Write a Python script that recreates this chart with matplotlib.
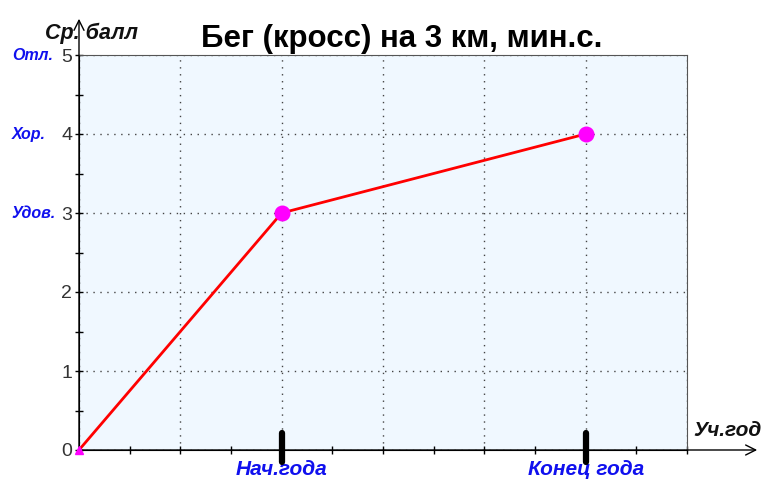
import matplotlib
matplotlib.use("Agg")
import matplotlib.pyplot as plt

plt.rcParams['font.family'] = ['Liberation Sans', 'DejaVu Sans']

# данные
x_vals = [0, 2, 5]
y_vals = [0, 3, 4]
x_marks = [2, 5]
x_marks_lbl = ['Нач.года', 'Конец года']
grade_y = [5, 4, 3]
grade_lbl = ['Отл.', 'Хор.', 'Удов.']
title = 'Бег (кросс) на 3 км, мин.с.'

fig = plt.figure(figsize=(7.68, 4.82), dpi=100)
ax = fig.add_axes([79/768, 1-450/482, 608/768, 395/482])
ax.set_facecolor('#f0f8ff')
ax.set_xlim(0, 6)
ax.set_ylim(0, 5)

ax.set_xticks(range(0, 7))
ax.set_xticks([i + 0.5 for i in range(6)], minor=True)
ax.set_yticks(range(0, 6))
ax.set_yticks([i + 0.5 for i in range(5)], minor=True)
ax.set_xticklabels([])
ax.tick_params(axis='x', which='both', direction='inout', length=6, width=1)
ax.tick_params(axis='y', which='both', direction='inout', length=6, width=1,
               labelsize=14, labelcolor='#333333', pad=2)
ax.grid(True, which='major', linestyle=(0, (1, 4)), color='#444444', linewidth=1)

for s in ['top', 'right']:
    ax.spines[s].set_color('#555555')
ax.spines['left'].set_color('black')
ax.spines['bottom'].set_color('black')

# оси со стрелками
ax.annotate('', xy=(1.12, 0), xytext=(0, 0), xycoords='axes fraction',
            arrowprops=dict(arrowstyle='->', color='black', lw=1, mutation_scale=18),
            annotation_clip=False)
ax.annotate('', xy=(0, (450-16)/395), xytext=(0, 0), xycoords='axes fraction',
            arrowprops=dict(arrowstyle='->', color='black', lw=1, mutation_scale=18),
            annotation_clip=False)

ax.plot(x_vals, y_vals, color='red', lw=2, zorder=3)
ax.plot(x_vals[1:], y_vals[1:], 'o', color='magenta', ms=10.5, zorder=4)
ax.plot(x_vals[0], y_vals[0], '^', color='magenta', ms=6, zorder=4, clip_on=False)

for xm, lbl in zip(x_marks, x_marks_lbl):
    ax.plot([xm, xm], [0.215, -0.15], color='black', lw=4.5, solid_capstyle='round',
            clip_on=False, zorder=5)
    ax.text(xm, -0.25, lbl, ha='center', va='center', fontsize=15, fontweight='bold',
            fontstyle='italic', color='#1010ee')

for gy, lbl in zip(grade_y, grade_lbl):
    ax.annotate(lbl, xy=(0, gy), xycoords=('figure fraction', 'data'),
                xytext=(12/768, gy), textcoords=('figure fraction', 'data'),
                ha='left', va='center', fontsize=11.5, fontweight='bold',
                fontstyle='italic', color='#1010ee')

fig.text(45/768, 1-33/482, 'Ср. балл', ha='left', va='center', fontsize=15.5,
         fontweight='bold', fontstyle='italic', color='#111111')
fig.text(693/768, 1-430/482, 'Уч.год', ha='left', va='center', fontsize=15,
         fontweight='bold', fontstyle='italic', color='#111111')
fig.text(402/768, 1-39/482, title, ha='center', va='center', fontsize=22.5,
         fontweight='bold', color='black')

fig.savefig('out.png', dpi=100)
